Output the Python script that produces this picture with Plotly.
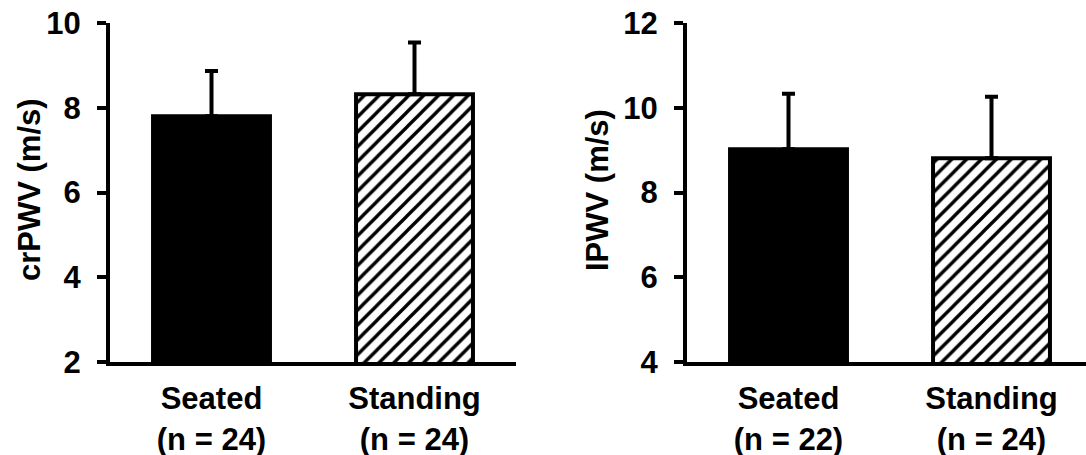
import plotly.graph_objects as go

# Data
groups = ["Seated", "Standing"]
n_left = [24, 24]
n_right = [22, 24]
crpwv_mean = [7.8, 8.32]
crpwv_sd = [1.07, 1.22]
lpwv_mean = [9.02, 8.81]
lpwv_sd = [1.31, 1.45]
left_ticks = [2, 4, 6, 8, 10]
right_ticks = [4, 6, 8, 10, 12]
left_title = "crPWV (m/s)"
right_title = "IPWV (m/s)"

W, H = 1086, 455
FAM = "Liberation Sans, Arial, sans-serif"
FONT = dict(family=FAM, size=31, color="black", weight="bold")
TICKFONT = dict(family=FAM, size=31, color="black", weight="bold")
LW = 4

def labels(ns):
    return [f"{g}<br>(n = {n})" for g, n in zip(groups, ns)]

def bar_traces(means, sds, ns, xa, ya):
    labs = labels(ns)
    err = lambda v: dict(type="data", symmetric=False, array=[v], arrayminus=[0],
                         color="black", thickness=LW, width=6.5)
    solid = go.Bar(
        x=[labs[0]], y=[means[0]], xaxis=xa, yaxis=ya, width=0.576,
        marker=dict(color="black", line=dict(color="black", width=LW)),
        error_y=err(sds[0]), showlegend=False,
    )
    hatched = go.Bar(
        x=[labs[1]], y=[means[1]], xaxis=xa, yaxis=ya, width=0.576,
        marker=dict(color="white", line=dict(color="black", width=LW),
                    pattern=dict(shape="/", fgcolor="black", bgcolor="white",
                                 fgopacity=1, size=10.5, solidity=0.32)),
        error_y=err(sds[1]), showlegend=False,
    )
    return [solid, hatched]

fig = go.Figure()
for t in bar_traces(crpwv_mean, crpwv_sd, n_left, "x", "y"):
    fig.add_trace(t)
for t in bar_traces(lpwv_mean, lpwv_sd, n_right, "x2", "y2"):
    fig.add_trace(t)

ydom = [1 - 362 / H, 1 - 23 / H]
axis_common = dict(showline=True, linecolor="black", linewidth=LW, ticks="outside",
                   ticklen=9, tickwidth=LW, tickcolor="black", showgrid=False,
                   zeroline=False, tickfont=TICKFONT, automargin=False)
xcommon = dict(showline=True, linecolor="black", linewidth=LW, ticks="", showgrid=False,
               zeroline=False, tickfont=FONT, automargin=False, ticklabelstandoff=6)

fig.update_layout(
    width=W, height=H, margin=dict(l=0, r=0, t=0, b=0, autoexpand=False),
    paper_bgcolor="white", plot_bgcolor="white",
    barmode="overlay",
    xaxis=dict(domain=[110 / W, 516 / W], range=[-0.5, 1.5], anchor="y", **xcommon),
    yaxis=dict(domain=ydom, range=[left_ticks[0], left_ticks[-1]], tickvals=left_ticks,
               anchor="x", ticklabelstandoff=10, **axis_common),
    xaxis2=dict(domain=[687 / W, 1.0], range=[-0.5, -0.5 + 399 / 203], anchor="y2", **xcommon),
    yaxis2=dict(domain=ydom, range=[right_ticks[0], right_ticks[-1]], tickvals=right_ticks,
                anchor="x2", ticklabelstandoff=10, **axis_common),
    annotations=[
        dict(text=left_title, textangle=-90, xref="paper", yref="paper",
             x=29 / W, y=1 - 190 / H, xanchor="center", yanchor="middle",
             showarrow=False, font=FONT),
        dict(text=right_title, textangle=-90, xref="paper", yref="paper",
             x=597 / W, y=1 - 190 / H, xanchor="center", yanchor="middle",
             showarrow=False, font=FONT),
    ],
)

fig.write_html("out.html")
